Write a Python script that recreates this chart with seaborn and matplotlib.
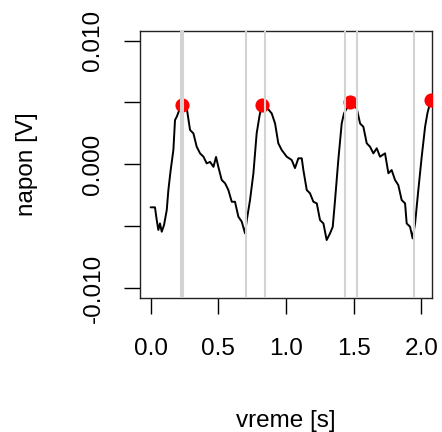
import matplotlib
matplotlib.use("Agg")
import matplotlib.pyplot as plt
import seaborn as sns
import pandas as pd

# Pulse signal (time in seconds, voltage in volts)
time_s = [0.000, 0.032, 0.045, 0.057, 0.069, 0.082, 0.099, 0.119, 0.131, 0.148,
          0.168, 0.180, 0.193, 0.212, 0.230, 0.266, 0.291, 0.316, 0.340, 0.365,
          0.390, 0.414, 0.439, 0.464, 0.483, 0.500, 0.525, 0.550, 0.574, 0.599,
          0.623, 0.648, 0.673, 0.697, 0.710, 0.734, 0.759, 0.783, 0.803, 0.820,
          0.857, 0.894, 0.919, 0.943, 0.968, 1.005, 1.042, 1.066, 1.091, 1.116,
          1.128, 1.153, 1.177, 1.202, 1.227, 1.251, 1.276, 1.300, 1.325, 1.345,
          1.362, 1.386, 1.411, 1.428, 1.473, 1.522, 1.547, 1.571, 1.596, 1.620,
          1.645, 1.670, 1.694, 1.731, 1.756, 1.780, 1.805, 1.829, 1.854, 1.879,
          1.891, 1.916, 1.935, 1.953, 1.977, 2.002, 2.027, 2.044, 2.069, 2.090]
voltage_v = [-0.00347, -0.00347, -0.00450, -0.00530, -0.00477, -0.00544, -0.00490, -0.00369, -0.00207, -0.00046,
             0.00116, 0.00358, 0.00385, 0.00440, 0.00480, 0.00460, 0.00278, 0.00250, 0.00143, 0.00089,
             0.00062, 0.00008, 0.00020, -0.00020, 0.00060, -0.00020, -0.00126, -0.00153, -0.00207, -0.00302,
             -0.00302, -0.00423, -0.00463, -0.00557, -0.00450, -0.00288, -0.00072, 0.00250, 0.00385, 0.00480,
             0.00460, 0.00412, 0.00330, 0.00170, 0.00116, 0.00062, 0.00035, -0.00030, 0.00049, 0.00049,
             -0.00046, -0.00207, -0.00234, -0.00302, -0.00315, -0.00450, -0.00477, -0.00611, -0.00557, -0.00504,
             -0.00288, 0.00035, 0.00330, 0.00412, 0.00500, 0.00453, 0.00330, 0.00304, 0.00170, 0.00143,
             0.00089, 0.00130, 0.00062, 0.00089, -0.00072, -0.00046, -0.00126, -0.00167, -0.00288, -0.00315,
             -0.00477, -0.00504, -0.00598, -0.00477, -0.00207, 0.00062, 0.00304, 0.00412, 0.00520, 0.00500]

# Detected peaks
peak_t = [0.230, 0.820, 1.473, 2.069]
peak_v = [0.00480, 0.00480, 0.00500, 0.00520]

# Beat window boundaries
marker_t = [0.222, 0.2415, 0.7046, 0.8427, 1.438, 1.5266, 1.9456]

x_ticks = [0.0, 0.5, 1.0, 1.5, 2.0]
x_tick_labels = ["0.0", "0.5", "1.0", "1.5", "2.0"]
y_ticks = [-0.010, -0.005, 0.000, 0.005, 0.010]
y_tick_labels = ["-0.010", "", "0.000", "", "0.010"]

sns.set_theme(style="white")
plt.rcParams["font.family"] = ["Liberation Sans", "DejaVu Sans"]

fig = plt.figure(figsize=(4.42, 4.32), dpi=100)
ax = fig.add_axes([0.3163, 0.310, 0.978 - 0.3163, 0.929 - 0.310])

signal = pd.DataFrame({"t": time_s, "v": voltage_v})
peaks = pd.DataFrame({"t": peak_t, "v": peak_v})

sns.lineplot(data=signal, x="t", y="v", ax=ax, color="black", linewidth=1.4,
             zorder=2)
sns.scatterplot(data=peaks, x="t", y="v", ax=ax, color="red", s=75,
                marker="o", edgecolor="red", linewidth=1.5, zorder=3)
for t in marker_t:
    ax.axvline(t, color="#d3d3d3", linewidth=1.5, zorder=4)

ax.set_xlim(-0.08, 2.08)
ax.set_ylim(-0.0108, 0.0108)
ax.set_xticks(x_ticks)
ax.set_xticklabels(x_tick_labels)
ax.set_yticks(y_ticks)
ax.set_yticklabels(y_tick_labels, rotation=90, va="center")

ax.tick_params(axis="both", which="both", direction="out", length=11.5, width=1.0,
               color="black", labelsize=17.5, labelcolor="black",
               bottom=True, left=True)
ax.tick_params(axis="x", pad=17)
ax.tick_params(axis="y", pad=14)
for side in ["top", "right", "bottom", "left"]:
    ax.spines[side].set_visible(True)
    ax.spines[side].set_color("#222222")
    ax.spines[side].set_linewidth(1.0)

ax.set_xlabel("vreme [s]", fontsize=17.5, color="black", labelpad=36)
ax.set_ylabel("napon [V]", fontsize=17.5, color="black", labelpad=32)
ax.grid(False)

fig.savefig("out.png", dpi=100, facecolor="white")
